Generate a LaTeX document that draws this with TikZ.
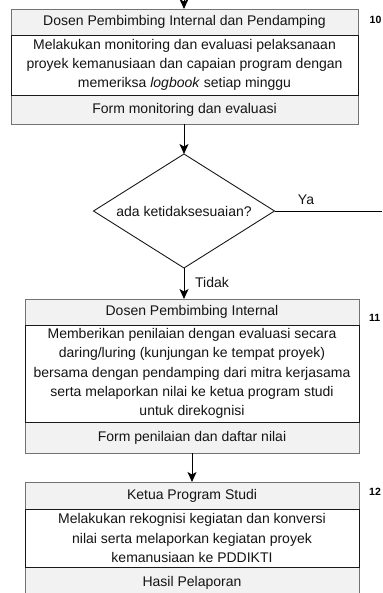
\documentclass[tikz,border=0pt]{standalone}
\usepackage{fontspec}
\setmainfont{Liberation Sans}
\usetikzlibrary{arrows.meta,shapes.geometric}
\begin{document}
\begin{tikzpicture}[x=1pt,y=-1pt,
  txt/.style={font=\fontsize{14}{19.3}\selectfont, text=black!92},
  band/.style={txt, draw=black!55, fill=black!5, line width=0.8pt,
    inner sep=0pt, outer sep=0pt, align=center},
  core/.style={txt, draw=black!90, fill=white, line width=0.9pt,
    inner sep=0pt, outer sep=0pt, align=center},
  wideblock/.style={minimum width=347pt},
  narrowblock/.style={minimum width=334pt},
  decision/.style={txt, diamond, draw=black!90, line width=0.9pt, aspect=1.6,
    minimum width=181pt, minimum height=114pt, inner sep=0pt, outer sep=0pt},
  stepno/.style={font=\fontsize{10.5}{12}\selectfont\bfseries, anchor=west, inner sep=0pt},
  flow/.style={line width=0.9pt, black},
  flowarrow/.style={flow, -{Stealth[length=10pt,width=9pt,inset=2.5pt]}},
  lbl/.style={txt, inner sep=0pt}
]
\useasboundingbox (0,0) rectangle (382,593);

% step 10: monitoring and evaluation
\node[band, wideblock, minimum height=26pt] (h1) at (184.5,22) {Dosen Pembimbing Internal dan Pendamping};
\node[band, wideblock, minimum height=29pt] (f1) at (184.5,109.5) {Form monitoring dan evaluasi};
\node[core, wideblock, minimum height=60pt] (m1) at (184.5,65)
  {Melakukan monitoring dan evaluasi pelaksanaan\\proyek kemanusiaan dan capaian program dengan\\memeriksa \textit{logbook} setiap minggu};
\node[stepno] (n1) at (369.5,20) {10};

% decision
\node[decision] (dec) at (184,211) {ada ketidaksesuaian?};

% step 11: assessment
\node[band, narrowblock, minimum height=26pt] (h2) at (192,312) {Dosen Pembimbing Internal};
\node[band, narrowblock, minimum height=31pt] (f2) at (192,437.5) {Form penilaian dan daftar nilai};
\node[core, narrowblock, minimum height=97pt] (m2) at (192,373.5)
  {Memberikan penilaian dengan evaluasi secara\\daring/luring (kunjungan ke tempat proyek)\\bersama dengan pendamping dari mitra kerjasama\\serta melaporkan nilai ke ketua program studi\\untuk direkognisi};
\node[stepno] (n2) at (369,318) {11};

% step 12: recognition and reporting
\node[band, narrowblock, minimum height=27pt] (h3) at (192,495.5) {Ketua Program Studi};
\node[band, narrowblock, minimum height=31pt] (f3) at (192,582.5) {Hasil Pelaporan};
\node[core, narrowblock, minimum height=58pt] (m3) at (192,538)
  {Melakukan rekognisi kegiatan dan konversi\\nilai serta melaporkan kegiatan proyek\\kemanusiaan ke PDDIKTI};
\node[stepno] (n3) at (369,492) {12};

% connectors
\coordinate (entry) at (184,0);
\coordinate (exit) at (382,211);
\draw[flowarrow] (entry) -- (entry |- h1.north);
\draw[flowarrow] (dec.north |- f1.south) -- (dec.north);
\draw[flow] (dec.east) -- (exit);
\node[lbl] (ya) at (306,200) {Ya};
\draw[flowarrow] (dec.south) -- (dec.south |- h2.north);
\node[lbl, anchor=west] (tidak) at (195,282) {Tidak};
\draw[flowarrow] (f2.south) -- (h3.north);
\end{tikzpicture}
\end{document}
